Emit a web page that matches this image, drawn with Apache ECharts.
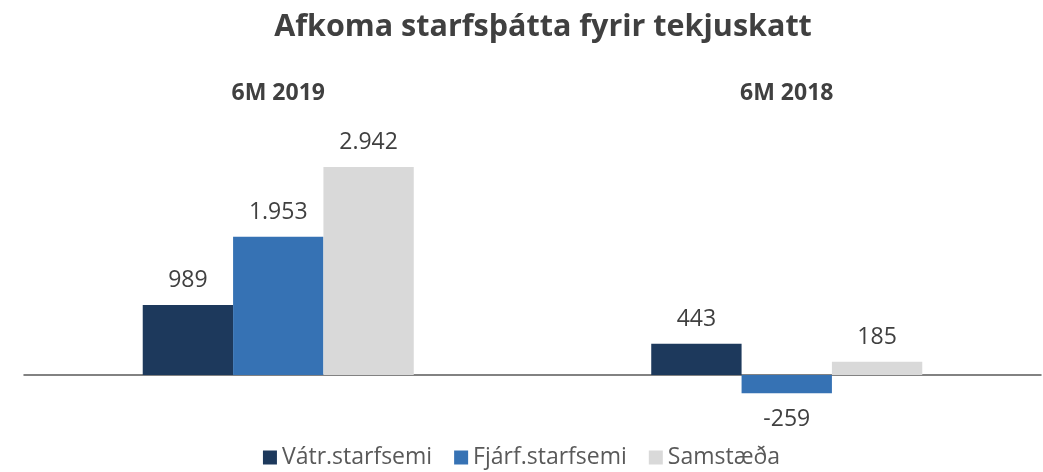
<!DOCTYPE html>
<html>
<head>
<meta charset="utf-8">
<script src="https://cdn.jsdelivr.net/npm/echarts@6/dist/echarts.min.js"></script>
<style>
  html, body { margin: 0; padding: 0; background: #fff; }
  #chart { width: 1043px; height: 472px; }
</style>
</head>
<body>
<div id="chart"></div>
<script>
const periods = ["6M 2019", "6M 2018"];
const seriesNames = ["Vátr.starfsemi", "Fjárf.starfsemi", "Samstæða"];
const vatr = [989, 443];
const fjarf = [1953, -259];
const samstaeda = [2942, 185];
const colors = ["#1d395c", "#3672b4", "#d9d9d9"]; // Vátr, Fjárf, Samstæða

const fontFamily = "'Open Sans', 'Noto Sans', sans-serif";
const fmt = (v) => v.toLocaleString("de-DE");

const chart = echarts.init(document.getElementById("chart"));

const series = [vatr, fjarf, samstaeda].map((d, i) => ({
    name: seriesNames[i],
    type: "bar",
    barGap: "0%",
    barCategoryGap: "46.7%",
    itemStyle: { color: colors[i] },
    label: {
        show: true,
        position: "top",
        distance: 13,
        fontSize: 23,
        color: "#404040",
        fontFamily,
        formatter: (p) => fmt(p.value),
    },
    data: d.map(v => v < 0
        ? { value: v, label: { position: "bottom", distance: 15 } }
        : v),
}));

chart.setOption({
    animation: false,
    title: {
        text: "Afkoma starfsþátta fyrir tekjuskatt",
        left: 538,
        textAlign: "center",
        top: 7,
        textStyle: { fontSize: 30.5, fontWeight: "bold", color: "#404040", fontFamily },
    },
    legend: {
        data: seriesNames,
        bottom: -2,
        left: "center",
        itemWidth: 14,
        itemHeight: 14,
        itemGap: 22,
        icon: "rect",
        textStyle: { fontSize: 23, color: "#595959", fontFamily },
    },
    grid: { left: 24, right: 2, top: 127.5, bottom: 61.7, containLabel: false },
    xAxis: [
        {
            type: "category",
            data: periods,
            axisLine: { show: true, onZero: true, lineStyle: { color: "#595959", width: 1.5 } },
            axisTick: { show: false },
            axisLabel: { show: false },
        },
        {
            type: "category",
            data: periods,
            position: "top",
            axisLine: { show: false },
            axisTick: { show: false },
            axisLabel: { margin: 23, fontSize: 23, fontWeight: "bold", color: "#404040", fontFamily },
        },
    ],
    yAxis: {
        type: "value",
        min: -500,
        max: 3500,
        show: false,
        splitLine: { show: false },
    },
    series,
});
</script>
</body>
</html>
